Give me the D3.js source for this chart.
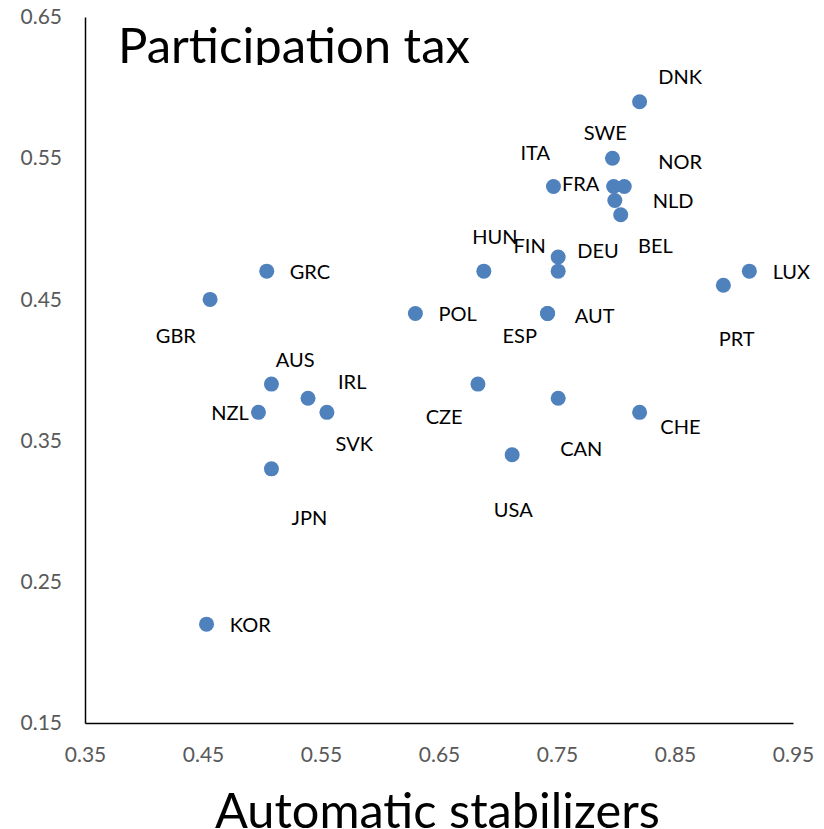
<!DOCTYPE html>
<html>
<head>
<meta charset="utf-8">
<script src="https://cdn.jsdelivr.net/npm/d3@7"></script>
<style>
  html, body { margin: 0; padding: 0; background: #fff; }
  svg { display: block; }
  text { font-family: Lato, "Open Sans", sans-serif; }
</style>
</head>
<body>
<div id="chart"></div>
<script>
// ---- data ----
const countries = ["DNK","SWE","ITA","FRA","NOR","NLD","BEL","HUN","FIN","DEU","LUX","PRT","POL","AUT","ESP","CZE","CAN","CHE","USA","GRC","GBR","AUS","IRL","NZL","SVK","JPN","KOR"];
const stabilizers = [0.820,0.797,0.747,0.798,0.807,0.799,0.804,0.688,0.751,0.751,0.913,0.891,0.630,0.742,0.742,0.683,0.751,0.820,0.712,0.504,0.456,0.508,0.539,0.497,0.555,0.508,0.453];
const participationTax = [0.59,0.55,0.53,0.53,0.53,0.52,0.51,0.47,0.48,0.47,0.47,0.46,0.44,0.44,0.44,0.39,0.38,0.37,0.34,0.47,0.45,0.39,0.38,0.37,0.37,0.33,0.22];
const xTicks = [0.35,0.45,0.55,0.65,0.75,0.85,0.95];
const yTicks = [0.15,0.25,0.35,0.45,0.55,0.65];
const chartTitle = "Participation tax";
const xTitle = "Automatic stabilizers";

// ---- label placement (manual offsets in pixels, like the original) ----
const labelOffsets = {
  DNK:[18.6,-25], SWE:[-28.7,-25.4], ITA:[-33,-33.4], FRA:[-51.6,-2.7], NOR:[34,-25],
  NLD:[38,0], BEL:[17.4,31], HUN:[-11.6,-34], FIN:[-44.7,-11], DEU:[19,-20],
  LUX:[23.3,0.6], PRT:[-4.7,54], POL:[23,0.3], AUT:[27.3,2.7], ESP:[-45,22.7],
  CZE:[-52.3,32.4], CAN:[2,50.3], CHE:[20.7,14], USA:[-18.3,55], GRC:[23,0.6],
  GBR:[-54.3,36], AUS:[4.3,-24.3], IRL:[30,-16], NZL:[-47.3,0.3], SVK:[8.7,31.3],
  JPN:[20,49], KOR:[23.3,0.7]
};

const W = 824, H = 829;
const svg = d3.select("#chart").append("svg").attr("width", W).attr("height", H);

const x = d3.scaleLinear().domain([0.35, 0.95]).range([85, 793]);
const y = d3.scaleLinear().domain([0.15, 0.65]).range([723, 17]);

const points = countries.map((c, i) => ({ c, x: stabilizers[i], y: participationTax[i] }));

// axes
const xAxis = svg.append("g").attr("transform", "translate(0,723)")
  .call(d3.axisBottom(x).tickValues(xTicks).tickFormat(d3.format(".2f")).tickSize(0).tickSizeOuter(0).tickPadding(24));
const yAxis = svg.append("g").attr("transform", "translate(85,0)")
  .call(d3.axisLeft(y).tickValues(yTicks).tickFormat(d3.format(".2f")).tickSize(0).tickSizeOuter(0).tickPadding(23));
[xAxis, yAxis].forEach(g => {
  g.select(".domain").attr("stroke", "#000").attr("stroke-width", 1.5);
  g.selectAll("text").attr("fill", "#595959").style("font-size", "21px").style("font-family", "Lato, 'Open Sans', sans-serif");
});

// points
svg.append("g").selectAll("circle").data(points).join("circle")
  .attr("cx", d => x(d.x)).attr("cy", d => y(d.y)).attr("r", 7.5)
  .attr("fill", "#4F81BD");

// labels
svg.append("g").selectAll("text").data(points).join("text")
  .attr("x", d => x(d.x) + labelOffsets[d.c][0])
  .attr("y", d => y(d.y) + labelOffsets[d.c][1])
  .attr("dy", "0.36em")
  .attr("fill", "#000").style("font-size", "20px")
  .text(d => d.c);

// title (clipped at bottom like the original text box)
svg.append("clipPath").attr("id", "titleClip").append("rect")
  .attr("x", 0).attr("y", 0).attr("width", W).attr("height", 65);
const t = svg.append("text").attr("clip-path", "url(#titleClip)")
  .attr("x", 118).attr("y", 63).style("font-size", "48px").attr("fill", "#000").text(chartTitle);
const tw = t.node().getComputedTextLength();
t.style("font-size", (48 * 352 / tw) + "px");

// x axis title
const xt = svg.append("text").attr("x", 215).attr("y", 828)
  .style("font-size", "50px").attr("fill", "#000").text(xTitle);
const xw = xt.node().getComputedTextLength();
xt.style("font-size", (50 * 445 / xw) + "px");
</script>
</body>
</html>
